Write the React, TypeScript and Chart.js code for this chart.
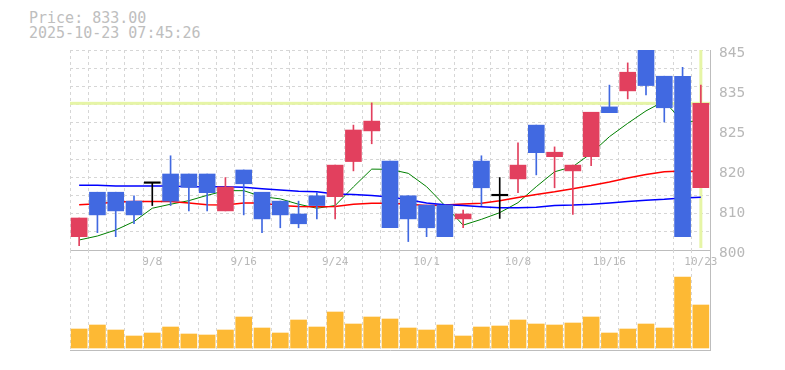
import React, { useEffect, useRef } from "react";
import { Chart, registerables } from "chart.js";

Chart.register(...registerables);

// ---- data ----
const dates = [
  "9/2", "9/3", "9/4", "9/5", "9/8", "9/9", "9/10", "9/11", "9/12", "9/16",
  "9/17", "9/18", "9/19", "9/22", "9/24", "9/25", "9/26", "9/29", "9/30", "10/1",
  "10/2", "10/3", "10/6", "10/7", "10/8", "10/9", "10/10", "10/14", "10/15", "10/16",
  "10/17", "10/20", "10/21", "10/22", "10/23",
];
const xTickLabels = ["9/8", "9/16", "9/24", "10/1", "10/8", "10/16", "10/23"];

const openPrices = [
  803.0, 813.0, 813.0, 811.0, 815.0, 817.1, 817.1, 817.1, 808.8, 818.0,
  813.0, 811.0, 808.1, 812.2, 812.0, 819.9, 826.8, 820.0, 812.2, 810.1,
  810.1, 807.0, 820.0, 812.2, 816.0, 828.1, 821.0, 817.8, 821.0, 832.2,
  835.8, 847.5, 839.1, 839.1, 814.0,
];
const highPrices = [
  807.2, 813.0, 813.0, 812.2, 815.0, 821.2, 817.1, 817.1, 816.3, 818.0,
  813.0, 811.0, 811.0, 813.0, 819.1, 828.1, 833.1, 820.0, 812.2, 810.1,
  810.1, 809.0, 821.2, 816.3, 824.1, 828.1, 823.2, 819.1, 831.0, 837.1,
  842.1, 848.0, 839.1, 841.1, 837.1,
];
const lowPrices = [
  801.0, 803.9, 803.0, 805.9, 810.0, 810.0, 808.8, 808.8, 808.8, 807.9,
  803.9, 805.0, 805.0, 807.0, 807.0, 817.8, 823.9, 805.0, 801.9, 803.0,
  803.0, 805.0, 810.0, 807.1, 812.9, 816.9, 814.0, 808.0, 819.0, 830.9,
  834.0, 834.9, 828.8, 803.0, 814.0,
];
const closePrices = [
  807.2, 807.9, 808.8, 807.9, 815.0, 811.0, 814.1, 812.9, 814.2, 814.9,
  807.0, 807.9, 805.9, 810.0, 819.1, 827.0, 829.0, 805.0, 807.0, 805.0,
  803.0, 808.1, 814.0, 812.2, 819.1, 821.9, 822.0, 819.1, 831.0, 830.9,
  840.0, 837.0, 832.0, 803.0, 833.0,
];
const ma5 = [
  802.25, 803.15, 804.5, 806.4, 809.4, 810.3, 811.1, 812.3, 813.35, 813.35,
  812.0, 811.5, 810.3, 809.4, 810.0, 814.2, 818.2, 818.15, 817.25, 814.25,
  810.0, 805.6, 806.9, 808.4, 810.65, 814.25, 817.6, 818.75, 821.75, 825.5,
  828.5, 831.3, 833.5, 828.9, 829.0,
];
const ma25 = [
  810.2, 810.4, 810.8, 810.9, 810.9, 810.9, 810.6, 810.2, 810.1, 810.6,
  810.6, 810.0, 809.8, 809.75, 809.8, 810.3, 810.5, 810.5, 810.3, 810.0,
  810.1, 810.35, 810.5, 811.1, 811.8, 812.5, 813.1, 813.8, 814.5, 815.3,
  816.2, 817.0, 817.6, 817.8, 817.6,
];
const ma75 = [
  814.55, 814.55, 814.4, 814.4, 814.4, 814.4, 814.25, 814.25, 814.25, 814.1,
  813.8, 813.5, 813.2, 813.1, 812.6, 812.5, 812.25, 811.9, 811.3, 810.6,
  810.2, 810.0, 809.75, 809.5, 809.5, 809.6, 810.0, 810.1, 810.3, 810.6,
  810.9, 811.2, 811.4, 811.7, 811.85,
];
const volumes = [
  19000, 23000, 18000, 12000, 15000, 21000, 14000, 13000, 18000, 31000,
  20000, 15000, 28000, 21000, 36000, 24000, 31000, 29000, 20000, 18000,
  23000, 12000, 21000, 22000, 28000, 24000, 23000, 25000, 31000, 15000,
  19000, 24000, 20000, 71000, 43000,
];
const yTickValues = [800, 809, 818, 827, 836, 845];
const yTickLabels = ["800", "810", "820", "825", "835", "845"];
const currentPrice = 833.0;
const timestamp = "2025-10-23 07:45:26";

// ---- styles ----
const UP = "#e2405e";
const DOWN = "#4169e1";
const EVEN = "#000000";
const GRID = "#d6d6d6";
const AXIS = "#bdbdbd";
const TEXT = "#b8b8b8";
const GUIDE = "#e6f5a6";
const VOL = "#fdb934";
const FONT = "'DejaVu Sans Mono', 'Liberation Mono', monospace";

const candleColors = openPrices.map((o, i) =>
  closePrices[i] > o ? UP : closePrices[i] < o ? DOWN : EVEN
);

const guidePlugin = {
  id: "guides",
  beforeDatasetsDraw(chart: any) {
    const { ctx, chartArea, scales } = chart;
    const y = scales.y.getPixelForValue(currentPrice);
    const x = scales.x.getPixelForValue(dates.length - 1);
    ctx.save();
    ctx.fillStyle = GUIDE;
    ctx.fillRect(chartArea.left, y - 1.5, chartArea.right - chartArea.left, 3);
    ctx.fillRect(x - 1.5, chartArea.top, 3, chartArea.bottom - chartArea.top - 2);
    ctx.restore();
  },
};

export default function App() {
  const priceRef = useRef<HTMLCanvasElement | null>(null);
  const volRef = useRef<HTMLCanvasElement | null>(null);

  useEffect(() => {
    const priceChart = new Chart(priceRef.current as HTMLCanvasElement, {
      type: "bar",
      data: {
        labels: dates,
        datasets: [
          {
            type: "line",
            data: ma5,
            borderColor: "#008000",
            borderWidth: 1,
            pointRadius: 0,
            tension: 0,
            order: 5,
          } as any,
          {
            type: "line",
            data: ma25,
            borderColor: "#ff0000",
            borderWidth: 1.5,
            pointRadius: 0,
            tension: 0,
            order: 4,
          } as any,
          {
            type: "line",
            data: ma75,
            borderColor: "#0000ff",
            borderWidth: 1.5,
            pointRadius: 0,
            tension: 0,
            order: 3,
          } as any,
          {
            type: "bar",
            data: lowPrices.map((l, i) => [l, highPrices[i]]),
            backgroundColor: candleColors,
            barThickness: 1,
            grouped: false,
            order: 2,
          } as any,
          {
            type: "bar",
            data: openPrices.map((o, i) => [o, closePrices[i]]),
            backgroundColor: candleColors,
            barThickness: 16,
            minBarLength: 1.5,
            grouped: false,
            order: 1,
          } as any,
        ],
      },
      options: {
        responsive: false,
        animation: false,
        layout: { padding: { left: 70, top: 50, right: 0, bottom: 0 } },
        plugins: { legend: { display: false }, tooltip: { enabled: false } },
        scales: {
          x: {
            type: "category",
            offset: true,
            grid: { offset: true, color: GRID, lineWidth: 1, drawTicks: false },
            border: { display: true, color: AXIS, width: 1, dash: [3, 3] },
            ticks: {
              autoSkip: false,
              maxRotation: 0,
              minRotation: 0,
              padding: 6,
              color: TEXT,
              font: { family: FONT, size: 11 },
              callback: (_v: any, i: number) =>
                xTickLabels.includes(dates[i]) ? dates[i] : "",
            },
            afterFit: (s: any) => {
              s.height = 25;
            },
          },
          y: {
            position: "right",
            min: 800,
            max: 845,
            afterBuildTicks: (s: any) => {
              s.ticks = yTickValues.map((v) => ({ value: v }));
            },
            grid: { display: false, drawTicks: false },
            border: { display: true, color: AXIS, width: 1 },
            ticks: {
              padding: 9,
              labelOffset: 3,
              color: TEXT,
              font: { family: FONT, size: 14.5 },
              callback: (v: any) => {
                const k = yTickValues.indexOf(Number(v));
                return k >= 0 ? yTickLabels[k] : "";
              },
            },
            afterFit: (s: any) => {
              s.width = 75;
            },
          },
          yg: {
            position: "left",
            min: 800,
            max: 845,
            afterBuildTicks: (s: any) => {
              const n = 11;
              const out = [];
              for (let k = 0; k <= n; k++) out.push({ value: s.min + ((s.max - s.min) * k) / n });
              s.ticks = out;
            },
            grid: { color: GRID, lineWidth: 1, drawTicks: false },
            border: { display: false, dash: [3, 3] },
            ticks: { display: false },
            afterFit: (s: any) => {
              s.width = 0;
            },
          },
        },
      } as any,
      plugins: [guidePlugin],
    });

    const volChart = new Chart(volRef.current as HTMLCanvasElement, {
      type: "bar",
      data: {
        labels: dates,
        datasets: [
          {
            data: volumes,
            backgroundColor: VOL,
            barThickness: 16,
          },
        ],
      },
      options: {
        responsive: false,
        animation: false,
        layout: { padding: { left: 70, top: 0, right: 0, bottom: 3 } },
        plugins: { legend: { display: false }, tooltip: { enabled: false } },
        scales: {
          x: {
            type: "category",
            offset: true,
            grid: { offset: true, color: GRID, lineWidth: 1, drawTicks: false },
            border: { display: true, color: AXIS, width: 1, dash: [3, 3] },
            ticks: { display: false },
            afterFit: (s: any) => {
              s.height = 0;
            },
          },
          y: {
            position: "right",
            min: -2000,
            max: 98000,
            grid: { display: false, drawTicks: false },
            border: { display: true, color: AXIS, width: 1 },
            ticks: { display: false },
            afterFit: (s: any) => {
              s.width = 75;
            },
          },
        },
      } as any,
    });

    return () => {
      priceChart.destroy();
      volChart.destroy();
    };
  }, []);

  return (
    <div style={{ position: "absolute", left: 0, top: 0, width: 785, height: 370, background: "#ffffff" }}>
      <div
        style={{
          position: "absolute",
          left: 29,
          top: 11,
          fontFamily: FONT,
          fontSize: 15,
          lineHeight: "15px",
          color: "#bebebe",
          whiteSpace: "pre",
        }}
      >
        <div>{`Price: ${currentPrice.toFixed(2)}`}</div>
        <div>{timestamp}</div>
      </div>
      <canvas
        ref={priceRef}
        width={785}
        height={275}
        style={{ position: "absolute", left: 0, top: 0, width: 785, height: 275 }}
      />
      <canvas
        ref={volRef}
        width={785}
        height={103}
        style={{ position: "absolute", left: 0, top: 250, width: 785, height: 103 }}
      />
    </div>
  );
}
